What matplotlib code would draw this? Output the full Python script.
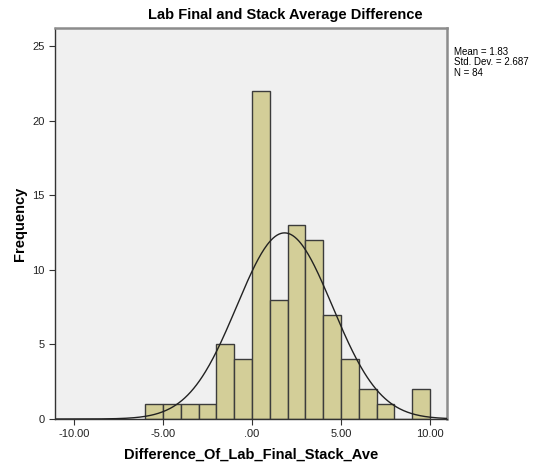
import numpy as np
import matplotlib
matplotlib.use('Agg')
import matplotlib.pyplot as plt

# histogram bins (width 1) and counts
bin_edges = [-6, -5, -4, -3, -2, -1, 0, 1, 2, 3, 4, 5, 6, 7, 8, 9, 10]
counts = [1, 1, 1, 1, 5, 4, 22, 8, 13, 12, 7, 4, 2, 1, 0, 2]
mean_val = 1.83
std_val = 2.687
n_val = 84

x_ticks = [-10, -5, 0, 5, 10]
x_tick_labels = ['-10.00', '-5.00', '.00', '5.00', '10.00']
y_ticks = [0, 5, 10, 15, 20, 25]

plt.rcParams['font.family'] = ['Liberation Sans', 'DejaVu Sans']

fig = plt.figure(figsize=(5.33, 4.65), dpi=100)
ax = fig.add_axes([0.1032, 0.0989, 0.7355, 0.8409])
ax.set_facecolor('#F0F0F0')

lefts = np.array(bin_edges[:-1])
widths = np.diff(bin_edges)
ax.bar(lefts, counts, width=widths, align='edge', color='#D3CE98',
       edgecolor='#3C3C3C', linewidth=1.0, zorder=2)

# normal curve scaled to counts
xs = np.linspace(-11, 11, 400)
ys = n_val / (std_val * np.sqrt(2 * np.pi)) * np.exp(-0.5 * ((xs - mean_val) / std_val) ** 2)
ax.plot(xs, ys, color='#222222', linewidth=1.0, zorder=3)

ax.set_xlim(-11.07, 10.96)
ax.set_ylim(0, 26.2)
ax.set_xticks(x_ticks)
ax.set_xticklabels(x_tick_labels)
ax.set_yticks(y_ticks)
ax.tick_params(axis='both', labelsize=8, length=4, color='#333333', labelcolor='#222222')

for side in ['top', 'right']:
    ax.spines[side].set_color('#8C8C8C')
    ax.spines[side].set_linewidth(1.8)
for side in ['left', 'bottom']:
    ax.spines[side].set_color('#333333')
    ax.spines[side].set_linewidth(1.0)

ax.set_xlabel('Difference_Of_Lab_Final_Stack_Ave', fontsize=10.5, fontweight='bold', labelpad=6)
ax.set_ylabel('Frequency', fontsize=10.5, fontweight='bold', labelpad=4)

fig.text(0.535, 0.968, 'Lab Final and Stack Average Difference', ha='center', va='center',
         fontsize=10.5, fontweight='bold')

fig.text(454 / 533, 1 - 47 / 465, f'Mean = {mean_val}\nStd. Dev. = {std_val}\nN = {n_val}',
         ha='left', va='top', fontsize=7, linespacing=1.05)

fig.savefig('out.png', dpi=100, facecolor='white')
